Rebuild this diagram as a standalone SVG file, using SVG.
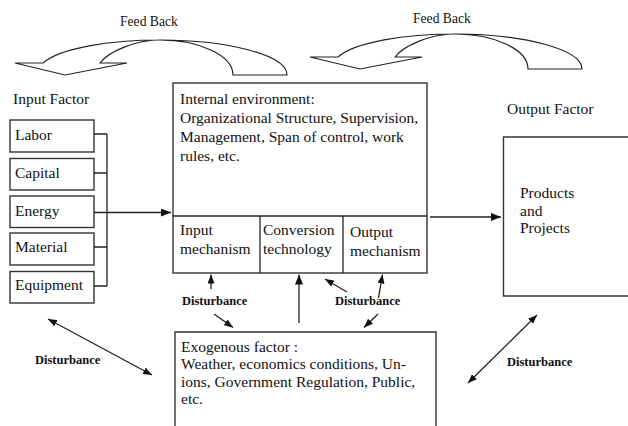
<svg xmlns="http://www.w3.org/2000/svg" xmlns:xlink="http://www.w3.org/1999/xlink" width="628" height="426" viewBox="0 0 628 426">
  <style>
    text { font-family: "Liberation Serif", "Times New Roman", serif; fill: #111; }
    .t { font-size: 15.5px; }
    .lbl { font-size: 13.6px; }
    .dist { font-size: 12.5px; font-weight: bold; }
    .box { fill: #fff; stroke: #333; stroke-width: 1.4; }
    .edge { fill: none; stroke: #222; stroke-width: 1.3; }
    .ln { fill: none; stroke: #222; stroke-width: 1.3; }
    .fb { fill: #fff; stroke: #222; stroke-width: 1.2; stroke-linejoin: miter; }
  </style>
  <defs>
    <marker id="head" viewBox="0 0 10 8" refX="10" refY="4" markerWidth="10" markerHeight="8" markerUnits="userSpaceOnUse" orient="auto-start-reverse">
      <path d="M0,0 L10,4 L0,8 Z" fill="#111"/>
    </marker>
    <marker id="headSm" viewBox="0 0 9 7" refX="9" refY="3.5" markerWidth="9" markerHeight="7" markerUnits="userSpaceOnUse" orient="auto-start-reverse">
      <path d="M0,0 L9,3.5 L0,7 Z" fill="#111"/>
    </marker>
    <!-- curved block arrow used for both feedback loops -->
    <path id="feedback" d="M15,63 L43,63 C60,48 110,40 160,40 C230,40 287,55.7 287,75 L233,75 C233,55.7 200,40 160,40 C135,40 108,52 100,63 L127,63 L65,75 Z"/>
  </defs>

  <rect width="628" height="426" fill="#fff"/>

  <!-- feedback loops and their labels -->
  <g id="feedback-left">
    <use xlink:href="#feedback" href="#feedback" class="fb"/>
    <text class="lbl" x="120" y="26">Feed Back</text>
  </g>
  <g id="feedback-right">
    <use xlink:href="#feedback" href="#feedback" class="fb" transform="translate(295,-6)"/>
    <text class="lbl" x="413" y="22.5">Feed Back</text>
  </g>

  <!-- input factors -->
  <g id="input-factor">
    <text class="t" x="13" y="104">Input Factor</text>
  </g>
  <g id="labor">
    <rect class="box" x="10" y="120" width="84" height="32"/>
    <text class="t" x="15" y="140">Labor</text>
  </g>
  <g id="capital">
    <rect class="box" x="10" y="158.5" width="84" height="31.5"/>
    <text class="t" x="15" y="178">Capital</text>
  </g>
  <g id="energy">
    <rect class="box" x="10" y="196" width="84" height="31.5"/>
    <text class="t" x="15" y="216">Energy</text>
  </g>
  <g id="material">
    <rect class="box" x="10" y="233" width="84" height="32"/>
    <text class="t" x="15" y="252">Material</text>
  </g>
  <g id="equipment">
    <rect class="box" x="10" y="271.5" width="84" height="31.5"/>
    <text class="t" x="15" y="290">Equipment</text>
  </g>

  <!-- internal environment with its three mechanisms -->
  <g id="internal-environment">
    <rect class="box" x="173" y="83" width="254" height="190"/>
    <line class="ln" x1="173" y1="216" x2="427" y2="216"/>
    <line class="ln" x1="260" y1="216" x2="260" y2="273"/>
    <line class="ln" x1="343" y1="216" x2="343" y2="273"/>
    <text class="t" x="180" y="104">Internal environment:</text>
    <text class="t" x="180" y="123">Organizational Structure, Supervision,</text>
    <text class="t" x="180" y="142">Management, Span of control, work</text>
    <text class="t" x="180" y="161">rules, etc.</text>
  </g>
  <g id="input-mechanism">
    <text class="t" x="180" y="235">Input</text>
    <text class="t" x="180" y="254">mechanism</text>
  </g>
  <g id="conversion-technology">
    <text class="t" x="263" y="235">Conversion</text>
    <text class="t" x="263" y="254">technology</text>
  </g>
  <g id="output-mechanism">
    <text class="t" x="350" y="237">Output</text>
    <text class="t" x="350" y="256">mechanism</text>
  </g>

  <!-- output factor -->
  <g id="output-factor">
    <text class="t" x="507" y="113.5">Output Factor</text>
    <path class="box" d="M640,137 H503.5 V296 H640"/>
    <text class="t" x="520" y="198">Products</text>
    <text class="t" x="520" y="215.5">and</text>
    <text class="t" x="520" y="233">Projects</text>
  </g>

  <!-- exogenous factor -->
  <g id="exogenous-factor">
    <path class="box" d="M175,432 V332 H436 V432"/>
    <text class="t" x="181" y="352">Exogenous factor :</text>
    <text class="t" x="181" y="369.3">Weather, economics conditions, Un-</text>
    <text class="t" x="181" y="386.7">ions, Government Regulation, Public,</text>
    <text class="t" x="181" y="404">etc.</text>
  </g>

  <!-- disturbance labels -->
  <g id="disturbance-labels">
    <text class="dist" x="182" y="304.5">Disturbance</text>
    <text class="dist" x="335" y="304.5">Disturbance</text>
    <text class="dist" x="35" y="363.5">Disturbance</text>
    <text class="dist" x="507" y="366">Disturbance</text>
  </g>

  <g id="connectors">
    <!-- bracket joining the input factors -->
    <path class="edge" d="M94,134 H107 M94,173 H107 M94,247 H107 M94,286 H107 M107,134 V286"/>
    <!-- inputs into the internal environment -->
    <line class="edge" x1="94" y1="212.5" x2="171" y2="212.5" marker-end="url(#head)"/>
    <!-- internal environment to output -->
    <line class="edge" x1="430" y1="217" x2="501" y2="217" marker-end="url(#head)"/>
    <!-- disturbances acting on the mechanisms -->
    <line class="edge" x1="211" y1="289" x2="211" y2="274.5" marker-end="url(#headSm)"/>
    <line class="edge" x1="299" y1="323" x2="299" y2="274.5" marker-end="url(#head)"/>
    <line class="edge" x1="347" y1="292" x2="325" y2="279" marker-end="url(#headSm)"/>
    <line class="edge" x1="378.5" y1="298" x2="382.5" y2="274.5" marker-end="url(#headSm)"/>
    <!-- disturbances into the exogenous factor -->
    <line class="edge" x1="214" y1="314" x2="233" y2="327.5" marker-end="url(#headSm)"/>
    <line class="edge" x1="378" y1="314" x2="364" y2="327.5" marker-end="url(#headSm)"/>
    <!-- two-way disturbances -->
    <line class="edge" x1="48" y1="319" x2="152" y2="375" marker-start="url(#headSm)" marker-end="url(#headSm)"/>
    <line class="edge" x1="468" y1="383" x2="537" y2="315" marker-start="url(#headSm)" marker-end="url(#headSm)"/>
  </g>
</svg>
